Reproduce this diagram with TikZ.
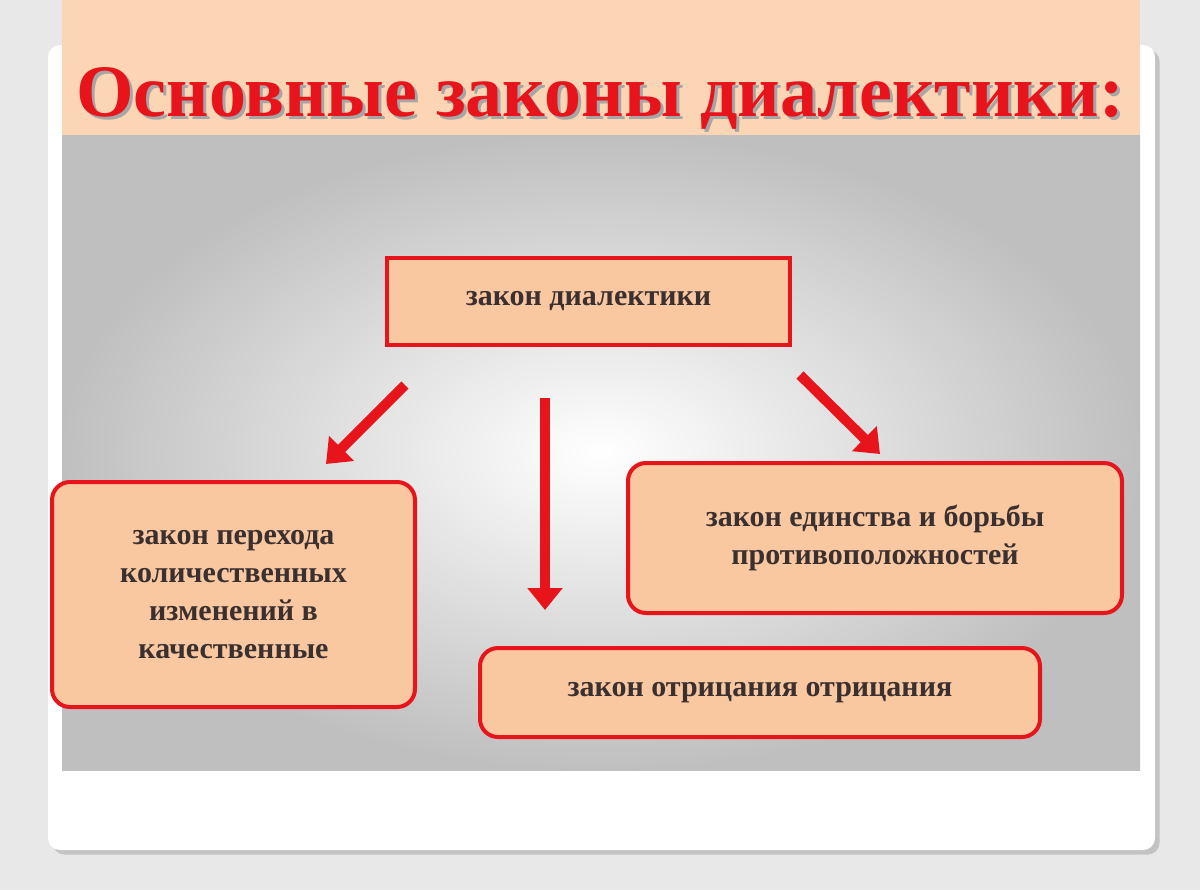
\documentclass[tikz,border=0pt]{standalone}
\usepackage{fontspec}
\setmainfont{Liberation Serif}
\usetikzlibrary{arrows.meta,positioning,shadows}
\definecolor{peach}{HTML}{FAC8A0}
\definecolor{band}{HTML}{FCD5B4}
\definecolor{lawred}{HTML}{E8141B}
\definecolor{ink}{HTML}{3A3030}
\newcommand{\titletext}{Основные законы диалектики:}

\begin{document}
\begin{tikzpicture}[
  x=0.5pt, y=-0.5pt,
  every node/.style={font=\bfseries\fontsize{15}{19}\selectfont, text=ink},
  lawbox/.style={draw=lawred, line width=2pt, fill=peach, rounded corners=9pt, align=center, inner sep=0pt},
  bigarrow/.style={-{Triangle[length=11pt,width=17pt]}, lawred, line width=5pt},
  ]

% background and card
\fill[gray!18] (0,0) rectangle (1200,890);
\fill[white, drop shadow={opacity=0.35}, rounded corners=6pt] (48,45) rectangle (1155,850);
\fill[band] (62,0) rectangle (1140,135);
\shade[inner color=white, outer color=gray!50] (62,135) rectangle (1140,770);

% title (with its own shadow)
\node (title) at (600,100) {\fontsize{37}{40}\selectfont
  \rlap{\kern1.5pt\raisebox{-1.5pt}{\color{black!35}\titletext}}\color{lawred}\titletext};

% boxes
\node[lawbox, rounded corners=0pt, minimum width=201.5pt, minimum height=43.5pt] (top) at (588.5,301.5) {закон диалектики};
\node[lawbox, minimum width=181.5pt, minimum height=112.5pt] (quant) at (233.5,594.5) {закон перехода\\количественных\\изменений в\\качественные};
\node[lawbox, minimum width=247pt, minimum height=75pt] (unity) at (875,538) {закон единства и борьбы\\противоположностей};
\node[lawbox, minimum width=280pt, minimum height=44.5pt] (negation) at (760,692.5) {закон отрицания отрицания};

% arrows
\coordinate (lstart) at (405,385);
\coordinate (lend) at (326,464);
\coordinate (mstart) at (545,398);
\coordinate (mend) at (545,610);
\coordinate (rstart) at (800,375);
\coordinate (rend) at (880,454);
\draw[bigarrow] (lstart) -- (lend);
\draw[bigarrow] (mstart) -- (mend);
\draw[bigarrow] (rstart) -- (rend);

\end{tikzpicture}
\end{document}
